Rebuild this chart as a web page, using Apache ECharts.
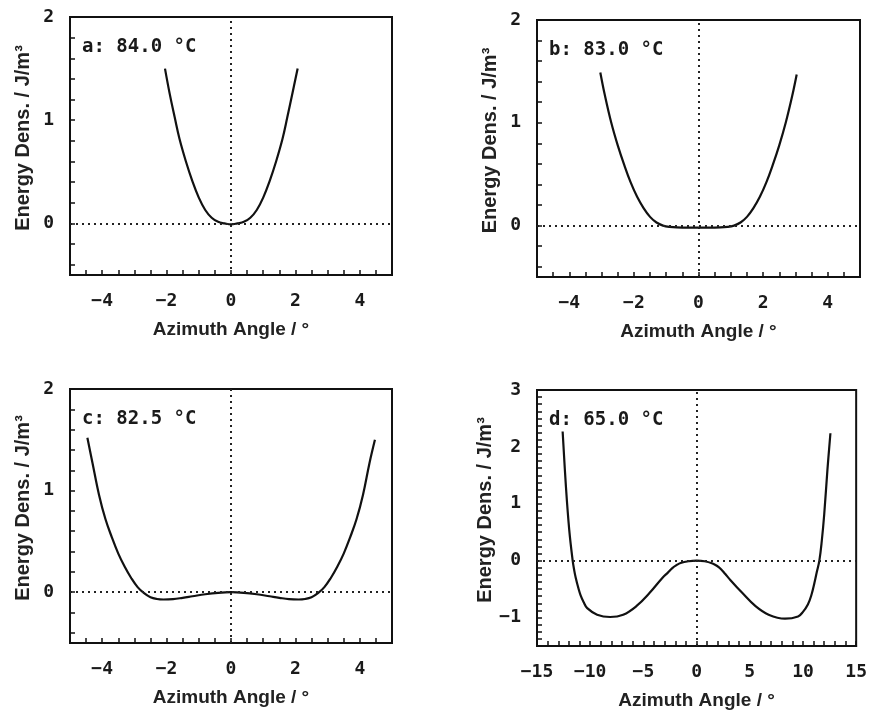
<!DOCTYPE html>
<html>
<head>
<meta charset="utf-8">
<script src="https://cdn.jsdelivr.net/npm/echarts@6/dist/echarts.min.js"></script>
<style>
  html, body { margin: 0; padding: 0; background: #fff; }
  #chart { width: 870px; height: 714px; }
</style>
</head>
<body>
<div id="chart"></div>
<script>
// ---- Data ----
const panelLabels = ['a: 84.0 °C', 'b: 83.0 °C', 'c: 82.5 °C', 'd: 65.0 °C'];
const xAxisName = 'Azimuth Angle / °';
const yAxisName = 'Energy Dens. / J/m³';

const aX = [-2.05, -1.9, -1.75, -1.6, -1.4, -1.2, -1.0, -0.8, -0.6, -0.4, -0.2, 0, 0.2, 0.4, 0.6, 0.8, 1.0, 1.2, 1.4, 1.6, 1.75, 1.9, 2.07];
const aY = [1.50, 1.25, 1.03, 0.82, 0.60, 0.41, 0.25, 0.13, 0.055, 0.015, 0.0, -0.01, 0.0, 0.015, 0.055, 0.13, 0.25, 0.41, 0.60, 0.82, 1.03, 1.25, 1.50];

const bX = [-3.04, -2.9, -2.7, -2.5, -2.3, -2.1, -1.9, -1.7, -1.5, -1.3, -1.1, -0.9, -0.5, 0, 0.5, 0.9, 1.1, 1.3, 1.5, 1.7, 1.9, 2.1, 2.3, 2.5, 2.7, 2.9, 3.04];
const bY = [1.49, 1.27, 1.00, 0.78, 0.59, 0.42, 0.28, 0.17, 0.085, 0.03, 0.0, -0.012, -0.02, -0.02, -0.02, -0.012, 0.0, 0.03, 0.085, 0.17, 0.28, 0.42, 0.59, 0.78, 1.00, 1.26, 1.47];

const cX = [-4.46, -4.3, -4.1, -3.9, -3.7, -3.5, -3.3, -3.1, -2.9, -2.7, -2.5, -2.3, -2.1, -1.8, -1.5, -1.2, -0.8, -0.4, 0, 0.4, 0.8, 1.2, 1.5, 1.8, 2.1, 2.3, 2.5, 2.7, 2.9, 3.1, 3.3, 3.5, 3.7, 3.9, 4.1, 4.3, 4.47];
const cY = [1.52, 1.27, 0.96, 0.72, 0.54, 0.38, 0.25, 0.14, 0.05, -0.01, -0.05, -0.067, -0.072, -0.068, -0.055, -0.04, -0.02, -0.006, 0.0, -0.006, -0.02, -0.04, -0.055, -0.068, -0.072, -0.067, -0.05, -0.01, 0.05, 0.14, 0.25, 0.38, 0.54, 0.72, 0.96, 1.27, 1.50];

const dX = [-12.59, -12.28, -11.97, -11.66, -11.5, -11.36, -11.1, -10.9, -10.6, -10.28, -9.35, -8.13, -6.9, -5.66, -4.43, -3.2, -2.7, -2.28, -1.9, -1.5, -0.75, 0, 0.75, 1.5, 1.9, 2.3, 2.7, 3.08, 4.31, 5.54, 6.77, 8.31, 9.54, 10.0, 10.46, 10.8, 11.08, 11.3, 11.54, 11.77, 12.0, 12.3, 12.58];
const dY = [2.27, 1.30, 0.54, 0.02, -0.17, -0.30, -0.49, -0.61, -0.735, -0.835, -0.95, -0.99, -0.95, -0.80, -0.57, -0.30, -0.21, -0.13, -0.08, -0.04, -0.01, 0.0, -0.01, -0.05, -0.09, -0.15, -0.235, -0.32, -0.57, -0.80, -0.95, -1.02, -0.98, -0.90, -0.77, -0.60, -0.39, -0.20, 0.0, 0.35, 0.82, 1.60, 2.24];

// ---- Layout / style ----
const INK = '#111';
const monoFont = '"DejaVu Sans Mono", "Liberation Mono", monospace';
const sansFont = '"Liberation Sans", Arial, sans-serif';

const panels = [
  { label: panelLabels[0], xs: aX, ys: aY, grid: { left: 70, top: 17, width: 322, height: 258 },
    x: { min: -5, max: 5, interval: 0.5, labelEvery: 2 }, y: { min: -0.5, max: 2, splitNumber: 12 } },
  { label: panelLabels[1], xs: bX, ys: bY, grid: { left: 537, top: 20, width: 323, height: 257 },
    x: { min: -5, max: 5, interval: 0.5, labelEvery: 2 }, y: { min: -0.5, max: 2, splitNumber: 12 } },
  { label: panelLabels[2], xs: cX, ys: cY, grid: { left: 70, top: 389, width: 322, height: 254 },
    x: { min: -5, max: 5, interval: 0.5, labelEvery: 2 }, y: { min: -0.5, max: 2, splitNumber: 12 } },
  { label: panelLabels[3], xs: dX, ys: dY, grid: { left: 537, top: 390, width: 323, height: 256 },
    x: { min: -15, max: 15, interval: 1, labelEvery: 5 }, y: { min: -1.5, max: 3, interval: 0.125 } }
];

function fmtNum(v) {
  return v < 0 ? '\u2212' + Math.abs(v) : String(v);
}
function onMultiple(v, m) {
  const r = Math.round(v / m) * m;
  return Math.abs(v - r) < 1e-6;
}

const option = {
  backgroundColor: '#fff',
  animation: false,
  title: [],
  grid: [],
  xAxis: [],
  yAxis: [],
  series: []
};

panels.forEach((p, i) => {
  option.grid.push(Object.assign({ show: true, borderColor: INK, borderWidth: 2, backgroundColor: 'transparent' }, p.grid));
  option.title.push({
    text: p.label,
    left: p.grid.left + 12,
    top: p.grid.top + 21,
    padding: 0,
    textStyle: { fontFamily: monoFont, fontWeight: 'bold', fontSize: 19, color: '#1a1a1a' }
  });
  const tick = { show: true, inside: true, length: 5, lineStyle: { color: INK, width: 1.5 } };
  option.xAxis.push({
    type: 'value', gridIndex: i,
    min: p.x.min, max: p.x.max, interval: p.x.interval,
    splitLine: { show: false },
    axisLine: { show: true, onZero: false, lineStyle: { color: INK, width: 2 } },
    axisTick: tick,
    axisLabel: {
      margin: 17, fontFamily: monoFont, fontWeight: 'bold', fontSize: 18, color: '#1a1a1a',
      formatter: v => onMultiple(v, p.x.labelEvery) ? fmtNum(Math.round(v)) : ''
    },
    name: xAxisName, nameLocation: 'middle', nameGap: 45,
    nameTextStyle: { fontFamily: sansFont, fontWeight: 'bold', fontSize: 19, color: '#222' }
  });
  const y = {
    type: 'value', gridIndex: i,
    min: p.y.min, max: p.y.max,
    splitLine: { show: false },
    axisLine: { show: true, onZero: false, lineStyle: { color: INK, width: 2 } },
    axisTick: tick,
    axisLabel: {
      margin: 16, fontFamily: monoFont, fontWeight: 'bold', fontSize: 18, color: '#1a1a1a',
      formatter: v => onMultiple(v, 1) ? fmtNum(Math.round(v)) : ''
    },
    name: yAxisName, nameLocation: 'middle', nameGap: 37,
    nameTextStyle: { fontFamily: sansFont, fontWeight: 'bold', fontSize: 20, color: '#222', padding: [0, 0, 0, 16] }
  };
  if (p.y.interval) y.interval = p.y.interval; else y.splitNumber = p.y.splitNumber;
  option.yAxis.push(y);
  option.series.push({
    type: 'line', xAxisIndex: i, yAxisIndex: i,
    data: p.xs.map((v, k) => [v, p.ys[k]]),
    smooth: 0.4, showSymbol: false, symbol: 'none',
    lineStyle: { color: INK, width: 2.2 },
    markLine: {
      silent: true, symbol: 'none', label: { show: false },
      lineStyle: { color: '#222', type: [2, 4], width: 2 },
      data: [{ xAxis: 0 }, { yAxis: 0 }]
    }
  });
});

const chart = echarts.init(document.getElementById('chart'), null, { renderer: 'canvas' });
chart.setOption(option);
</script>
</body>
</html>
